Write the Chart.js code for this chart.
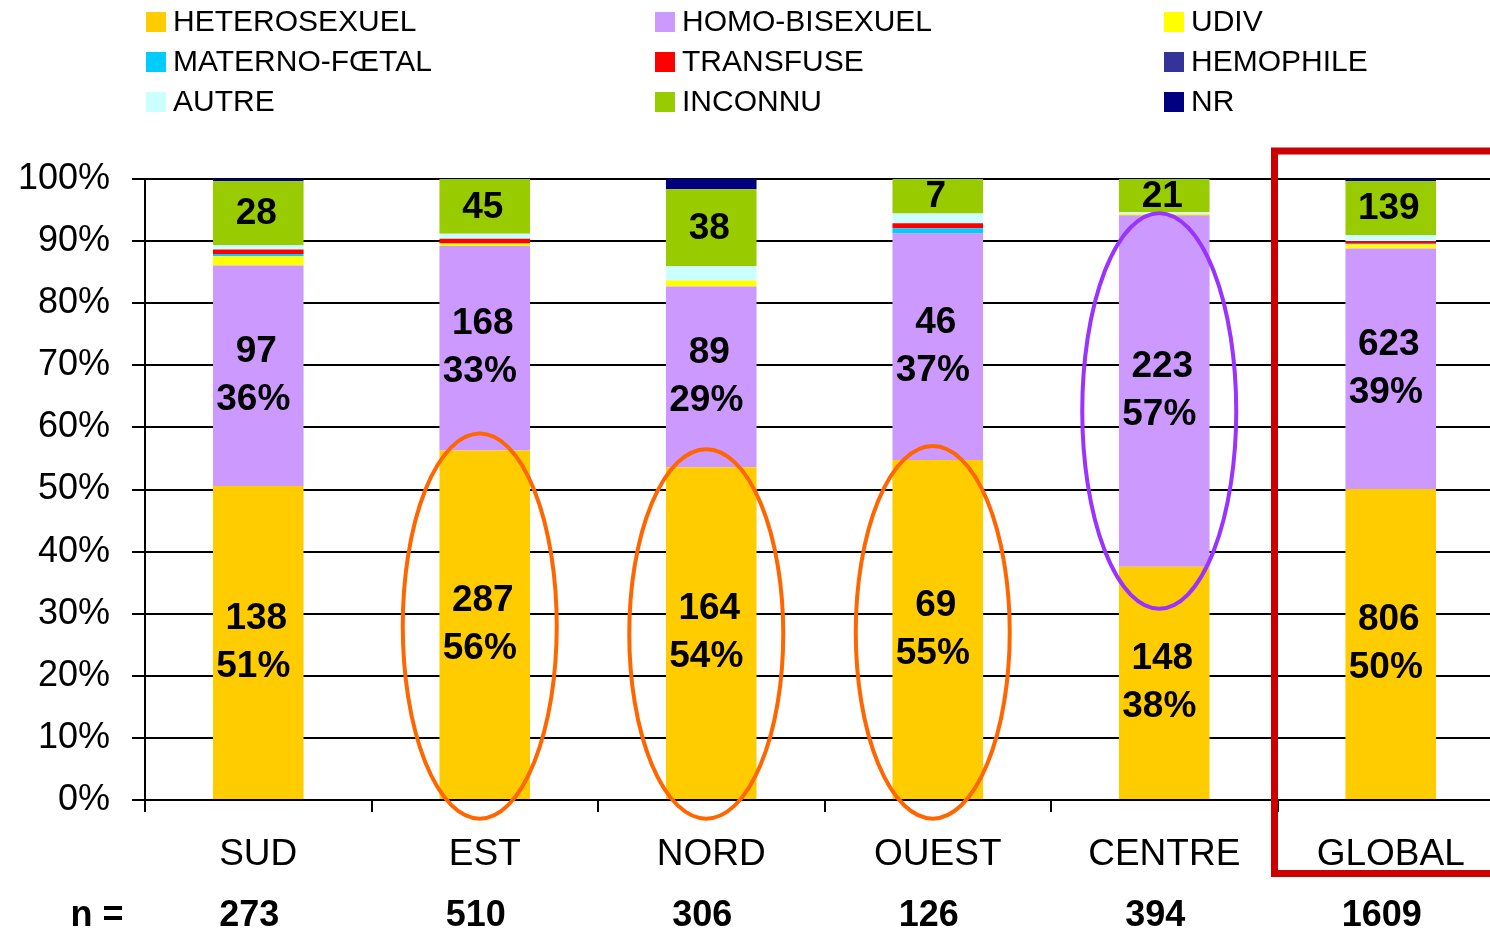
<!DOCTYPE html>
<html>
<head>
<meta charset="utf-8">
<script src="https://cdn.jsdelivr.net/npm/chart.js@4.4.1/dist/chart.umd.min.js"></script>
<style>
  html, body { margin: 0; padding: 0; background: #fff; overflow: hidden; }
  #wrap { position: relative; width: 1504px; height: 930px; }
</style>
</head>
<body>
<div id="wrap"><canvas id="chart" width="1504" height="930"></canvas></div>
<script>
// données (effectifs par région)
const categories = ["SUD", "EST", "NORD", "OUEST", "CENTRE", "GLOBAL"];
const totals = [273, 510, 306, 126, 394, 1609];
const heterosexuel = [138, 287, 164, 69, 148, 806];
const homoBisexuel = [97, 168, 89, 46, 223, 623];
const udiv = [4, 2, 3, 0, 1, 10];
const maternoFoetal = [1, 0, 0, 1, 0, 2];
const transfuse = [2, 4, 0, 1, 0, 7];
const hemophile = [0, 0, 0, 0, 0, 0];
const autre = [2, 4, 7, 2, 1, 16];
const inconnu = [28, 45, 38, 7, 21, 139];
const nr = [1, 0, 5, 0, 0, 6];
const yTicks = [0, 10, 20, 30, 40, 50, 60, 70, 80, 90, 100];

const FONT = "'Liberation Sans', Arial, sans-serif";

const pct = (arr) => arr.map((v, i) => (v / totals[i]) * 100);

const series = [
	{ label: "HETEROSEXUEL", counts: heterosexuel, color: "#FFCC00", showPct: true },
	{ label: "HOMO-BISEXUEL", counts: homoBisexuel, color: "#CC99FF", showPct: true },
	{ label: "UDIV", counts: udiv, color: "#FFFF00" },
	{ label: "MATERNO-FŒTAL", counts: maternoFoetal, color: "#00CCFF" },
	{ label: "TRANSFUSE", counts: transfuse, color: "#FF0000" },
	{ label: "HEMOPHILE", counts: hemophile, color: "#333399" },
	{ label: "AUTRE", counts: autre, color: "#CCFFFF" },
	{ label: "INCONNU", counts: inconnu, color: "#99CC00", showCount: true },
	{ label: "NR", counts: nr, color: "#000080" },
];

// ellipses et cadre (annotations)
const ellipses = [
	{ cat: "EST", from: -3, to: 59, color: "#FF6600" },
	{ cat: "NORD", from: -3, to: 56.5, color: "#FF6600" },
	{ cat: "OUEST", from: -3, to: 57, color: "#FF6600" },
	{ cat: "CENTRE", from: 30.8, to: 94.5, color: "#9933FF" },
];

const overlayPlugin = {
	id: "overlay",
	afterDatasetsDraw(chart) {
		const ctx = chart.ctx;
		ctx.save();
		ctx.fillStyle = "#000";
		ctx.textAlign = "center";
		ctx.textBaseline = "middle";
		ctx.font = "bold 37px " + FONT;
		series.forEach((s, i) => {
			if (!s.showPct && !s.showCount) return;
			const meta = chart.getDatasetMeta(i);
			meta.data.forEach((el, j) => {
				const cy = (el.y + el.base) / 2;
				if (s.showPct) {
					const p = Math.round((s.counts[j] / totals[j]) * 100) + "%";
					ctx.fillText(String(s.counts[j]), el.x - 2, cy - 24);
					ctx.fillText(p, el.x - 5, cy + 24);
				} else {
					ctx.fillText(String(s.counts[j]), el.x - 2, cy + 1);
				}
			});
		});
		ctx.restore();
	},
	afterDraw(chart) {
		const ctx = chart.ctx;
		const x = chart.scales.x;
		const y = chart.scales.y;
		const half = (x.getPixelForValue(1) - x.getPixelForValue(0)) / 2;
		ctx.save();
		// ellipses
		ctx.lineWidth = 4;
		ellipses.forEach((e) => {
			const cx = x.getPixelForValue(categories.indexOf(e.cat)) - 5;
			const y1 = y.getPixelForValue(e.to);
			const y2 = y.getPixelForValue(e.from);
			ctx.strokeStyle = e.color;
			ctx.beginPath();
			ctx.ellipse(cx, (y1 + y2) / 2, 77, (y2 - y1) / 2, 0, 0, Math.PI * 2);
			ctx.stroke();
		});
		// cadre rouge autour de GLOBAL
		const gx = x.getPixelForValue(categories.indexOf("GLOBAL")) - half - 3;
		ctx.strokeStyle = "#CC0000";
		ctx.lineWidth = 7;
		ctx.strokeRect(gx, 151, 400, 722.5);
		// ligne n =
		ctx.fillStyle = "#000";
		ctx.textAlign = "center";
		ctx.textBaseline = "middle";
		ctx.font = "bold 36px " + FONT;
		ctx.fillText("n =", 97, 916);
		totals.forEach((n, i) => {
			ctx.fillText(String(n), x.getPixelForValue(i) - 9, 916);
		});
		// légende 3 colonnes
		const colX = [146, 655, 1164];
		const rowY = [22, 62, 102];
		ctx.textAlign = "left";
		ctx.font = "30px " + FONT;
		series.forEach((s, i) => {
			const cx = colX[i % 3];
			const cy = rowY[Math.floor(i / 3)];
			ctx.fillStyle = s.color;
			ctx.fillRect(cx, cy - 10, 20, 20);
			ctx.fillStyle = "#000";
			ctx.fillText(s.label, cx + 27, cy + 1);
		});
		ctx.restore();
	},
};

new Chart(document.getElementById("chart"), {
	type: "bar",
	data: {
		labels: categories,
		datasets: series.map((s) => ({
			label: s.label,
			data: pct(s.counts),
			backgroundColor: s.color,
			borderWidth: 0,
			barPercentage: 0.4,
			categoryPercentage: 1,
		})),
	},
	options: {
		responsive: false,
		animation: false,
		layout: { padding: { top: 179, right: 0, bottom: 0, left: 0 } },
		plugins: { legend: { display: false }, tooltip: { enabled: false } },
		scales: {
			x: {
				stacked: true,
				afterFit: (scale) => { scale.height = 130; },
				grid: {
					offset: true,
					drawOnChartArea: false,
					drawTicks: true,
					tickLength: 12,
					color: "#000",
					lineWidth: 2,
				},
				border: { display: true, color: "#000", width: 2 },
				ticks: {
					color: "#000",
					font: { family: FONT, size: 37 },
					padding: 21,
					maxRotation: 0,
				},
			},
			y: {
				stacked: true,
				min: 0,
				max: 100,
				afterFit: (scale) => { scale.width = 145; },
				afterBuildTicks: (scale) => { scale.ticks = yTicks.map((v) => ({ value: v })); },
				grid: { color: "#000", lineWidth: 2, tickLength: 13 },
				border: { display: true, color: "#000", width: 2 },
				ticks: {
					color: "#000",
					font: { family: FONT, size: 36 },
					padding: 22,
					callback: (v) => v + "%",
				},
			},
		},
	},
	plugins: [overlayPlugin],
});
</script>
</body>
</html>
